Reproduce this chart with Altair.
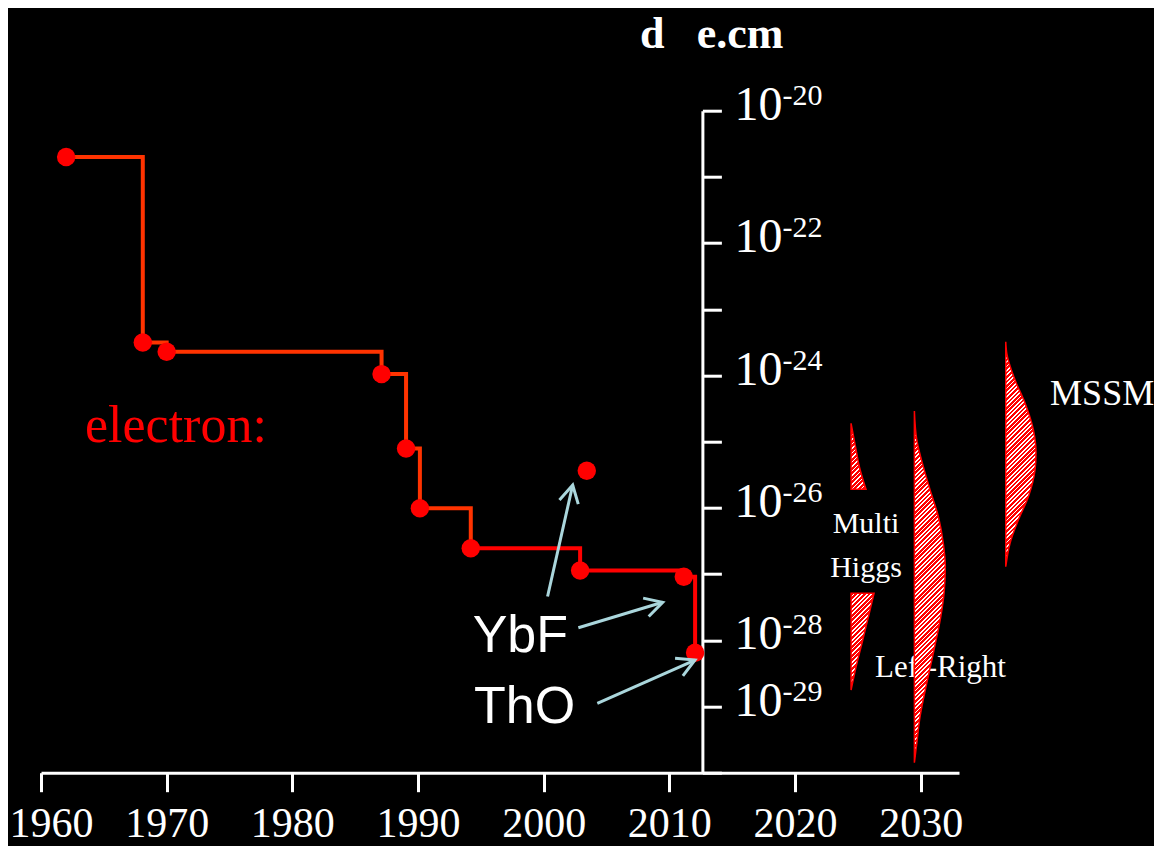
import math
import altair as alt
import pandas as pd

# ---------------- values ----------------
# electron EDM upper limits (year, |d_e| in e.cm)
edm_year = [1962.0, 1968.1, 1970.0, 1987.1, 1989.05, 1990.15, 1994.2, 2002.9, 2011.15, 2012.05]
edm_limit = [2.0e-21, 3.16e-24, 2.29e-24, 1.05e-24, 7.9e-26, 9.9e-27, 2.45e-27, 1.13e-27, 9.1e-28, 6.5e-29]
orange_until = 7  # first segment of the step line (orange-red), rest is red

extra_year = [2003.43]
extra_limit = [3.65e-26]

# theory bands: log10(d) and right-edge year (left edge is a constant year)
mh_base = 2024.46
mh_top_log = [-24.722, -25.125, -25.378, -25.719]
mh_top_edge = [2024.46, 2024.86, 2025.12, 2025.65]
mh_bot_log = [-27.29, -27.644, -27.995, -28.399, -28.751]
mh_bot_edge = [2026.29, 2025.84, 2025.39, 2024.86, 2024.46]

lr_base = 2029.50
lr_log = [-24.536, -24.974, -25.378, -25.73, -26.133, -26.535, -26.888,
          -27.29, -27.644, -28.147, -28.65, -29.154, -29.556, -29.849]
lr_edge = [2029.50, 2029.69, 2030.21, 2030.75, 2031.41, 2031.80, 2031.96,
           2031.86, 2031.60, 2031.06, 2030.48, 2029.95, 2029.69, 2029.50]

mssm_base = 2036.77
mssm_log = [-23.489, -23.665, -24.068, -24.42, -24.823, -25.175, -25.427,
            -25.831, -26.183, -26.535, -26.888]
mssm_edge = [2036.77, 2036.85, 2037.51, 2038.31, 2038.97, 2039.18, 2039.10,
             2038.57, 2037.77, 2037.11, 2036.77]

# axes
x_ticks = [1960, 1970, 1980, 1990, 2000, 2010, 2020, 2030]
y_tick_exp = [-20, -21, -22, -23, -24, -25, -26, -27, -28, -29, -30]
y_label_exp = [-20, -22, -24, -26, -28, -29]
y_axis_year = 2012.63

# arrows (from -> to), log10(d)
arrow_from_year = [2000.31, 2002.76, 2004.27]
arrow_from_log = [-27.338, -27.81, -28.952]
arrow_to_year = [2002.31, 2009.47, 2012.04]
arrow_to_log = [-25.654, -27.426, -28.298]

# annotations
title_parts = ["d", "e.cm"]
title_year = [2007.67, 2012.18]
title_log = [-19.06, -19.06]
electron_text = ["electron:"]
electron_year = [1963.5]
electron_log = [-25.009]
mol_text = ["YbF", "ThO"]
mol_year = [1994.35, 1994.46]
mol_log = [-28.172, -29.254]
mh_text = ["Multi", "Higgs"]
mh_text_year = [2025.65, 2025.65]
mh_text_log = [-26.384, -27.04]
lr_text = ["Left-Right"]
lr_text_year = [2026.37]
lr_text_log = [-28.555]
mssm_text = ["MSSM"]
mssm_text_year = [2040.30]
mssm_text_log = [-24.446]

# ---------------- layout / style ----------------
W, H = 918, 662
X0 = 1960
X_END = 2033.05
PPY = W / (X_END - X0)          # px per year
PPD = H / 10.0                  # px per decade
SERIF = "Liberation Serif"
SANS = "Liberation Sans"
RED = "#ff0000"
ORANGE = "#ff3300"
ARROW = "#aad6dc"

xs = alt.Scale(domain=[X0, X_END], zero=False, nice=False)
ys = alt.Scale(type="log", domain=[1e-30, 1e-20], nice=False)

x_axis = alt.Axis(values=x_ticks, format="d", domainColor="white", domainWidth=3,
                  tickColor="white", tickWidth=3, tickSize=19, labelColor="white",
                  labelFont=SERIF, labelFontSize=42, labelPadding=45,
                  labelBaseline="alphabetic", labelFlush=True, labelFlushOffset=32,
                  labelOverlap=False, grid=False, title="")
y_axis = alt.Axis(orient="right", offset=-(X_END - y_axis_year) * PPY,
                  values=[10.0 ** e for e in y_tick_exp], labels=False,
                  domainColor="white", domainWidth=3, tickColor="white", tickWidth=3,
                  tickSize=19, grid=False, title="")


def X(f):
    return alt.X(f, type="quantitative", scale=xs, axis=x_axis)


def Y(f):
    return alt.Y(f, type="quantitative", scale=ys, axis=y_axis)


def hatch(w, h, period=4.4, red_frac=0.6):
    s = (w + h) * h / (h * h + w * w)
    n = max(1, int(round((w + h) / period)))
    stops = []
    for i in range(n):
        a, b, c = i / n, (i + red_frac) / n, (i + 1) / n
        stops += [{"offset": a, "color": RED}, {"offset": b, "color": RED},
                  {"offset": b, "color": "white"}, {"offset": c, "color": "white"}]
    return {"gradient": "linear", "x1": 0, "y1": 0, "x2": s * w / h, "y2": s, "stops": stops}


def band(logs, edges, base):
    df = pd.DataFrame({"d": [10.0 ** v for v in logs], "xr": edges,
                       "xb": [base] * len(logs)})
    w = (max(edges) - base) * PPY
    h = (max(logs) - min(logs)) * PPD
    return alt.Chart(df).mark_area(orient="horizontal", interpolate="monotone",
                                   fill=hatch(w, h), stroke=RED, strokeWidth=1.5).encode(
        x=X("xr"), x2=alt.X2("xb"), y=Y("d"))


def texts(labels, years, logs, font, size, color, align="left", weight="normal"):
    df = pd.DataFrame({"t": labels, "x": years, "d": [10.0 ** v for v in logs]})
    return alt.Chart(df).mark_text(align=align, baseline="alphabetic", font=font,
                                   fontSize=size, color=color, fontWeight=weight).encode(
        x=X("x"), y=Y("d"), text="t:N")


# ---------------- layers ----------------
lr_label = texts(lr_text, lr_text_year, lr_text_log, SERIF, 31, "white")

bands = [band(mh_top_log, mh_top_edge, mh_base),
         band(mh_bot_log, mh_bot_edge, mh_base),
         band(lr_log, lr_edge, lr_base),
         band(mssm_log, mssm_edge, mssm_base)]

edm = pd.DataFrame({"year": edm_year, "d": edm_limit})
line_a = alt.Chart(edm.iloc[:orange_until]).mark_line(
    interpolate="step-after", color=ORANGE, strokeWidth=4).encode(x=X("year"), y=Y("d"))
line_b = alt.Chart(edm.iloc[orange_until - 1:]).mark_line(
    interpolate="step-after", color=RED, strokeWidth=4).encode(x=X("year"), y=Y("d"))

pts_df = pd.DataFrame({"year": edm_year + extra_year, "d": edm_limit + extra_limit})
points = alt.Chart(pts_df).mark_circle(size=340, color=RED, opacity=1).encode(
    x=X("year"), y=Y("d"))

angles = []
for fx, fl, tx, tl in zip(arrow_from_year, arrow_from_log, arrow_to_year, arrow_to_log):
    dx = (tx - fx) * PPY
    dy = -(tl - fl) * PPD
    angles.append(math.degrees(math.atan2(dy, dx)) % 360)
arr_df = pd.DataFrame({"x1": arrow_from_year, "d1": [10.0 ** v for v in arrow_from_log],
                       "x2": arrow_to_year, "d2": [10.0 ** v for v in arrow_to_log],
                       "ang": angles})
arrow_lines = alt.Chart(arr_df).mark_rule(color=ARROW, strokeWidth=3).encode(
    x=X("x1"), y=Y("d1"), x2=alt.X2("x2"), y2=alt.Y2("d2"))
arrow_heads = alt.Chart(arr_df).mark_point(
    shape="M-1,-0.55L0,0L-1,0.55", filled=False, size=1225, strokeWidth=3,
    color=ARROW, opacity=1).encode(
    x=X("x2"), y=Y("d2"), angle=alt.Angle("ang:Q", scale=None))

title = texts(title_parts, title_year, title_log, SERIF, 44, "white", weight="bold")
electron = texts(electron_text, electron_year, electron_log, SERIF, 52, RED)
mols = texts(mol_text, mol_year, mol_log, SANS, 52, "white")
mh_label = texts(mh_text, mh_text_year, mh_text_log, SERIF, 30, "white", align="center")
mssm_label = texts(mssm_text, mssm_text_year, mssm_text_log, SERIF, 36, "white")

ylab_df = pd.DataFrame({"x": [y_axis_year] * len(y_label_exp),
                        "d": [10.0 ** e for e in y_label_exp],
                        "base": ["10"] * len(y_label_exp),
                        "exp": [str(e) for e in y_label_exp]})
ylab_base = alt.Chart(ylab_df).mark_text(align="left", baseline="alphabetic", font=SERIF,
                                         fontSize=48, color="white", dx=32, dy=9).encode(
    x=X("x"), y=Y("d"), text="base:N")
ylab_exp = alt.Chart(ylab_df).mark_text(align="left", baseline="alphabetic", font=SERIF,
                                        fontSize=30, color="white", dx=80, dy=-6).encode(
    x=X("x"), y=Y("d"), text="exp:N")

chart = alt.layer(
    lr_label, *bands, line_a, line_b, points, arrow_lines, arrow_heads,
    title, electron, mols, mh_label, mssm_label, ylab_base, ylab_exp
).properties(
    width=W, height=H, background="black",
    autosize=alt.AutoSizeParams(type="none"),
    padding={"left": 33, "top": 102.7, "right": 195, "bottom": 73.3},
).configure_view(stroke="transparent")

chart.save("out.html", embed_options={"renderer": "svg", "actions": False})
